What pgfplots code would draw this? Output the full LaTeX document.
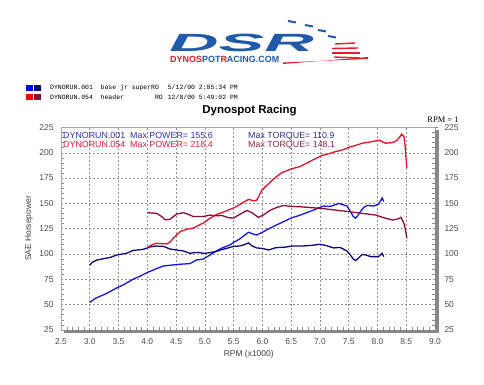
\documentclass[border=0pt]{standalone}
\usepackage{fontspec}
\setmainfont{Liberation Sans}
\newfontfamily\seriffnt{Liberation Serif}
\newfontfamily\monofnt{Liberation Mono}
\usepackage{pgfplots}
\pgfplotsset{compat=1.18}
\definecolor{pblue}{RGB}{20,20,230}
\definecolor{tnavy}{RGB}{10,10,128}
\definecolor{pred}{RGB}{232,16,40}
\definecolor{tmaroon}{RGB}{140,14,50}
\definecolor{logoblue}{RGB}{31,91,168}
\definecolor{logored}{RGB}{226,30,45}
\definecolor{txtblue}{RGB}{48,48,176}
\definecolor{txtnavy}{RGB}{48,48,140}
\definecolor{txtred}{RGB}{214,32,60}
\definecolor{txtmaroon}{RGB}{150,32,80}
\definecolor{framegray}{RGB}{136,136,136}
\begin{document}
\begin{tikzpicture}[x=1bp,y=1bp]
\path[use as bounding box] (0,0) rectangle (484,384);
% ---- logo ----
\node[anchor=base west, inner sep=0, text=logoblue] at (169,332.5) {\scalebox{2.75}[1.0]{\fontsize{25}{25}\selectfont\bfseries\itshape DSR}};
\node[anchor=base west, inner sep=0] at (170,321.5) {\fontsize{9}{9}\selectfont\bfseries\textcolor{logored}{DYNOS}\textcolor{logoblue}{POT}\textcolor{logored}{R}\textcolor{logoblue}{ACING.COM}};
\fill[logored] (283,320) -- (368,327) -- (368,325) -- (283,321.5) -- cycle;
\draw[logored, line width=1.4bp] (335,340) -- (355,341);
\draw[logored, line width=1.4bp] (332,335.5) -- (358,336);
\draw[logored, line width=1.4bp] (332,331) -- (360,331);
\draw[logored, line width=1.4bp] (334,327) -- (360,326);
\foreach \xa/\ya in {288/363, 305/359, 318/354, 328/348} {\draw[logoblue, line width=2bp] (\xa,\ya) -- ++(8,-1.5);}
% ---- file legend ----
\fill[blue] (26,293) rectangle (33,299);
\fill[tnavy] (34,293) rectangle (41,299);
\fill[red] (26,284) rectangle (33,290);
\fill[tmaroon] (34,284) rectangle (41,290);
\node[anchor=base west, inner sep=0] at (50,294.3) {\monofnt\fontsize{6.5}{6.5}\selectfont DYNORUN.001\ \ base jr superRO};
\node[anchor=base east, inner sep=0] at (238,294.3) {\monofnt\fontsize{6.5}{6.5}\selectfont 5/12/00 2:05:34 PM};
\node[anchor=base west, inner sep=0] at (50,284.3) {\monofnt\fontsize{6.5}{6.5}\selectfont DYNORUN.054\ \ header};
\node[anchor=base east, inner sep=0] at (163,284.3) {\monofnt\fontsize{6.5}{6.5}\selectfont RO};
\node[anchor=base east, inner sep=0] at (238,284.3) {\monofnt\fontsize{6.5}{6.5}\selectfont 12/8/00 5:49:02 PM};
% ---- title ----
\node[anchor=base, inner sep=0] at (249.5,271) {\fontsize{11.5}{11.5}\selectfont\bfseries Dynospot Racing};
\node[anchor=center, inner sep=0] at (443,264.5) {\seriffnt\fontsize{8.5}{8.5}\selectfont RPM = 1};
% ---- y label ----
\node[rotate=90, anchor=center, inner sep=0, text=black!75] at (29,155.5) {\fontsize{8.5}{8.5}\selectfont SAE Horsepower};
% ---- main axis ----
\begin{axis}[
  at={(61bp,54.1bp)}, anchor=south west, scale only axis,
  width=374bp, height=202.4bp,
  xmin=2.5, xmax=9.0, ymin=25, ymax=225,
  xtick={2.5,3.0,3.5,4.0,4.5,5.0,5.5,6.0,6.5,7.0,7.5,8.0,8.5,9.0},
  xticklabels={2.5,3.0,3.5,4.0,4.5,5.0,5.5,6.0,6.5,7.0,7.5,8.0,8.5,9.0},
  ytick={25,50,75,100,125,150,175,200,225},
  minor x tick num=4, minor y tick num=4,
  xtick pos=bottom, ytick pos=both, yticklabel pos=left,
  tick align=inside, major tick length=0pt, minor tick length=3bp,
  minor tick style={framegray, line width=0.5bp},
  grid=major,
  major grid style={dash pattern=on 2bp off 2bp, draw=gray!85, line width=0.6bp},
  axis line style={draw=gray!70, line width=0.6bp},
  tick label style={font=\fontsize{8.5}{8.5}\selectfont, text=black!70},
  /pgf/number format/assume math mode=true,
  xticklabel style={yshift=-5bp},
  yticklabel style={xshift=-4bp},
  xlabel={RPM (x1000)},
  label style={font=\fontsize{8.5}{8.5}\selectfont, text=black!75},
  xlabel style={at={(axis description cs:0.502,0)}, anchor=center, yshift=-24.5bp},
  clip=false,
]
\addplot[pblue, line width=1.3bp] coordinates {
(3.00,52) (3.09,56) (3.17,58) (3.29,61) (3.47,66.5) (3.60,70) (3.75,75) (3.87,78) (3.99,81.5) (4.16,85.5) (4.28,88.2) (4.45,89.2) (4.60,90) (4.74,90.5) (4.86,94.2) (4.97,94.9) (5.09,99) (5.20,103) (5.30,106) (5.44,109) (5.50,111.5) (5.61,115) (5.70,119) (5.76,121.5) (5.85,119.5) (5.90,118.8) (6.00,121.5) (6.08,124) (6.20,127.5) (6.37,132) (6.50,135.5) (6.66,138.5) (6.89,143.4) (7.06,147.4) (7.18,147) (7.33,150) (7.47,147.4) (7.53,142) (7.58,137) (7.62,135.5) (7.66,138) (7.70,141.6) (7.76,146) (7.82,148) (7.94,147.4) (8.02,149.4) (8.06,153) (8.08,155.5) (8.11,151.8)
};
\addplot[tnavy, line width=1.3bp] coordinates {
(3.00,89) (3.05,92) (3.12,94) (3.25,95.5) (3.35,96.5) (3.47,99) (3.64,100.7) (3.75,103.5) (3.93,104.6) (4.05,107) (4.16,107.9) (4.28,107.5) (4.39,105) (4.50,104) (4.63,103) (4.74,100.7) (4.85,101.5) (4.92,101.3) (5.00,100.5) (5.10,101.5) (5.20,102.5) (5.27,104) (5.38,105.6) (5.50,107.5) (5.61,108) (5.70,109.5) (5.76,111) (5.82,108) (5.90,106) (6.00,105.5) (6.11,104) (6.23,106.2) (6.40,106.8) (6.52,107.9) (6.69,107.9) (6.85,108.5) (7.00,109.6) (7.10,108.5) (7.24,106) (7.35,106.5) (7.47,103) (7.53,99) (7.58,95) (7.62,93.5) (7.67,96) (7.73,99.5) (7.80,99) (7.88,97.4) (8.02,97.4) (8.08,100.7) (8.11,97.4)
};
\addplot[pred, line width=1.3bp] coordinates {
(4.00,106.6) (4.08,109) (4.16,110.6) (4.34,110) (4.40,112) (4.45,115.6) (4.57,122) (4.68,124.4) (4.80,125.6) (4.92,129.2) (4.97,130.4) (5.09,135.3) (5.20,139) (5.35,142) (5.50,145.6) (5.60,148.5) (5.65,150.5) (5.76,154) (5.85,152.5) (5.90,153) (5.99,163) (6.08,168) (6.20,174.5) (6.34,180.5) (6.50,184) (6.66,186.5) (6.81,191) (6.95,195) (7.04,197.5) (7.18,199.5) (7.27,201.2) (7.40,203) (7.51,205.5) (7.63,207.5) (7.74,209.5) (7.90,211) (8.03,212.5) (8.10,210.5) (8.14,209.5) (8.25,210) (8.32,211.5) (8.38,215) (8.42,218.4) (8.46,216) (8.48,207) (8.49,199.6) (8.51,184.8)
};
\addplot[tmaroon, line width=1.3bp] coordinates {
(4.00,140.8) (4.16,140.2) (4.25,137) (4.31,133.8) (4.39,134.2) (4.51,139.5) (4.63,140.8) (4.72,139) (4.80,137) (4.97,137) (5.09,138.5) (5.15,137.8) (5.30,138) (5.40,136) (5.50,135.5) (5.60,139) (5.73,143) (5.82,140.8) (5.93,136.2) (6.03,139) (6.14,143.4) (6.25,146) (6.37,148) (6.50,147) (6.66,146.7) (6.85,145.8) (7.04,145) (7.25,143.5) (7.51,141.8) (7.75,140) (7.97,138.5) (8.10,136) (8.26,133.6) (8.35,134.5) (8.41,136.2) (8.46,130.3) (8.49,123) (8.51,115.5)
};
\end{axis}
% right-side labels
\begin{axis}[
  at={(61bp,54.1bp)}, anchor=south west, scale only axis,
  width=374bp, height=202.4bp,
  xmin=2.5, xmax=9.0, ymin=25, ymax=225,
  hide x axis, axis y line*=right,
  ytick={25,50,75,100,125,150,175,200,225},
  axis line style={draw=none},
  tick align=outside, major tick length=3bp,
  major tick style={framegray, line width=0.5bp},
  tick label style={font=\fontsize{8.5}{8.5}\selectfont, text=black!70},
  /pgf/number format/assume math mode=true,
  yticklabel style={xshift=3bp},
]
\addplot[draw=none] coordinates {(3,100)};
\end{axis}
% shadow frame
\draw[framegray, line width=3.5bp] (64,52.4) -- (437,52.4) -- (437,254);
% annotations
\node[anchor=base west, inner sep=0, text=txtblue] at (63,245.5) {\fontsize{8.9}{8.9}\selectfont DYNORUN.001\ \ Max POWER= 155.6};
\node[anchor=base west, inner sep=0, text=txtred] at (63,237) {\fontsize{8.9}{8.9}\selectfont DYNORUN.054\ \ Max POWER= 218.4};
\node[anchor=base west, inner sep=0, text=txtnavy] at (248,245.5) {\fontsize{8.9}{8.9}\selectfont Max TORQUE= 110.9};
\node[anchor=base west, inner sep=0, text=txtmaroon] at (248,237) {\fontsize{8.9}{8.9}\selectfont Max TORQUE= 148.1};
\end{tikzpicture}
\end{document}
